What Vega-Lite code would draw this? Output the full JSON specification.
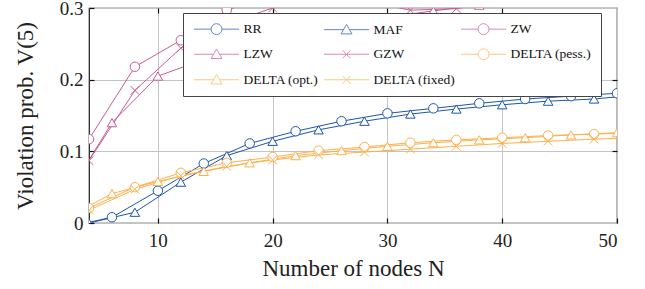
{
  "$schema": "https://vega.github.io/schema/vega-lite/v6.json",
  "width": 528,
  "height": 215,
  "autosize": "none",
  "padding": {"left": 89, "top": 8, "right": 28, "bottom": 66},
  "config": {
    "view": {"stroke": "#1a1a1a", "strokeWidth": 1.2},
    "font": "Liberation Serif, DejaVu Serif, serif"
  },
  "datasets": {
    "d": [
      {"s": "RR", "N": 4, "v": 0.001}, {"s": "RR", "N": 6, "v": 0.008}, {"s": "RR", "N": 10, "v": 0.045}, {"s": "RR", "N": 14, "v": 0.083}, {"s": "RR", "N": 18, "v": 0.111}, {"s": "RR", "N": 22, "v": 0.128}, {"s": "RR", "N": 26, "v": 0.142}, {"s": "RR", "N": 30, "v": 0.153}, {"s": "RR", "N": 34, "v": 0.160}, {"s": "RR", "N": 38, "v": 0.167}, {"s": "RR", "N": 42, "v": 0.173}, {"s": "RR", "N": 46, "v": 0.177}, {"s": "RR", "N": 50, "v": 0.181},
      {"s": "MAF", "N": 4, "v": 0.0}, {"s": "MAF", "N": 8, "v": 0.015}, {"s": "MAF", "N": 12, "v": 0.057}, {"s": "MAF", "N": 16, "v": 0.094}, {"s": "MAF", "N": 20, "v": 0.114}, {"s": "MAF", "N": 24, "v": 0.130}, {"s": "MAF", "N": 28, "v": 0.142}, {"s": "MAF", "N": 32, "v": 0.152}, {"s": "MAF", "N": 36, "v": 0.159}, {"s": "MAF", "N": 40, "v": 0.165}, {"s": "MAF", "N": 44, "v": 0.170}, {"s": "MAF", "N": 48, "v": 0.173}, {"s": "MAF", "N": 50, "v": 0.176},
      {"s": "ZW", "N": 4, "v": 0.117}, {"s": "ZW", "N": 8, "v": 0.218}, {"s": "ZW", "N": 12, "v": 0.255}, {"s": "ZW", "N": 16, "v": 0.297}, {"s": "ZW", "N": 20, "v": 0.318}, {"s": "ZW", "N": 24, "v": 0.33}, {"s": "ZW", "N": 28, "v": 0.34}, {"s": "ZW", "N": 32, "v": 0.348}, {"s": "ZW", "N": 36, "v": 0.355}, {"s": "ZW", "N": 40, "v": 0.36}, {"s": "ZW", "N": 44, "v": 0.365}, {"s": "ZW", "N": 48, "v": 0.37}, {"s": "ZW", "N": 50, "v": 0.372},
      {"s": "LZW", "N": 4, "v": 0.088}, {"s": "LZW", "N": 6, "v": 0.140}, {"s": "LZW", "N": 10, "v": 0.205}, {"s": "LZW", "N": 14, "v": 0.228}, {"s": "LZW", "N": 18, "v": 0.248}, {"s": "LZW", "N": 22, "v": 0.262}, {"s": "LZW", "N": 26, "v": 0.276}, {"s": "LZW", "N": 30, "v": 0.287}, {"s": "LZW", "N": 34, "v": 0.296}, {"s": "LZW", "N": 38, "v": 0.304}, {"s": "LZW", "N": 42, "v": 0.31}, {"s": "LZW", "N": 46, "v": 0.316}, {"s": "LZW", "N": 50, "v": 0.32},
      {"s": "GZW", "N": 4, "v": 0.087}, {"s": "GZW", "N": 8, "v": 0.185}, {"s": "GZW", "N": 12, "v": 0.244}, {"s": "GZW", "N": 16, "v": 0.278}, {"s": "GZW", "N": 20, "v": 0.30}, {"s": "GZW", "N": 24, "v": 0.308}, {"s": "GZW", "N": 28, "v": 0.31}, {"s": "GZW", "N": 32, "v": 0.297}, {"s": "GZW", "N": 36, "v": 0.299}, {"s": "GZW", "N": 40, "v": 0.31}, {"s": "GZW", "N": 44, "v": 0.312}, {"s": "GZW", "N": 48, "v": 0.315}, {"s": "GZW", "N": 50, "v": 0.316},
      {"s": "DELTA (pess.)", "N": 4, "v": 0.021}, {"s": "DELTA (pess.)", "N": 8, "v": 0.05}, {"s": "DELTA (pess.)", "N": 12, "v": 0.07}, {"s": "DELTA (pess.)", "N": 16, "v": 0.084}, {"s": "DELTA (pess.)", "N": 20, "v": 0.092}, {"s": "DELTA (pess.)", "N": 24, "v": 0.101}, {"s": "DELTA (pess.)", "N": 28, "v": 0.106}, {"s": "DELTA (pess.)", "N": 32, "v": 0.112}, {"s": "DELTA (pess.)", "N": 36, "v": 0.116}, {"s": "DELTA (pess.)", "N": 40, "v": 0.119}, {"s": "DELTA (pess.)", "N": 44, "v": 0.122}, {"s": "DELTA (pess.)", "N": 48, "v": 0.124}, {"s": "DELTA (pess.)", "N": 50, "v": 0.125},
      {"s": "DELTA (opt.)", "N": 4, "v": 0.024}, {"s": "DELTA (opt.)", "N": 6, "v": 0.041}, {"s": "DELTA (opt.)", "N": 10, "v": 0.058}, {"s": "DELTA (opt.)", "N": 14, "v": 0.072}, {"s": "DELTA (opt.)", "N": 18, "v": 0.084}, {"s": "DELTA (opt.)", "N": 22, "v": 0.094}, {"s": "DELTA (opt.)", "N": 26, "v": 0.101}, {"s": "DELTA (opt.)", "N": 30, "v": 0.107}, {"s": "DELTA (opt.)", "N": 34, "v": 0.112}, {"s": "DELTA (opt.)", "N": 38, "v": 0.116}, {"s": "DELTA (opt.)", "N": 42, "v": 0.119}, {"s": "DELTA (opt.)", "N": 46, "v": 0.123}, {"s": "DELTA (opt.)", "N": 50, "v": 0.126},
      {"s": "DELTA (fixed)", "N": 4, "v": 0.018}, {"s": "DELTA (fixed)", "N": 8, "v": 0.047}, {"s": "DELTA (fixed)", "N": 12, "v": 0.066}, {"s": "DELTA (fixed)", "N": 16, "v": 0.079}, {"s": "DELTA (fixed)", "N": 20, "v": 0.088}, {"s": "DELTA (fixed)", "N": 24, "v": 0.095}, {"s": "DELTA (fixed)", "N": 28, "v": 0.099}, {"s": "DELTA (fixed)", "N": 32, "v": 0.103}, {"s": "DELTA (fixed)", "N": 36, "v": 0.107}, {"s": "DELTA (fixed)", "N": 40, "v": 0.111}, {"s": "DELTA (fixed)", "N": 44, "v": 0.114}, {"s": "DELTA (fixed)", "N": 48, "v": 0.117}, {"s": "DELTA (fixed)", "N": 50, "v": 0.118}
    ]
  },
  "data": {"name": "d"},
  "resolve": {"axis": {"x": "independent", "y": "independent"}, "scale": {"shape": "independent"}, "legend": {"color": "independent", "shape": "independent"}},
  "layer": [
    {
      "mark": {"type": "line", "clip": true, "strokeWidth": 1},
      "encoding": {
        "x": {"field": "N", "type": "quantitative", "scale": {"domain": [4, 50], "nice": false, "zero": false},
          "axis": {"values": [10, 20, 30, 40, 50], "grid": true, "gridColor": "#c4c4c4", "gridWidth": 1, "domain": false, "tickColor": "#111", "tickSize": -5, "tickWidth": 1.2, "labelFont": "Liberation Serif, DejaVu Serif, serif", "labelFontSize": 19, "labelColor": "#222", "labelPadding": 13, "title": "Number of nodes N", "titleFont": "Liberation Serif, DejaVu Serif, serif", "titleFontSize": 23, "titleFontWeight": "normal", "titleColor": "#222", "titlePadding": 7}},
        "y": {"field": "v", "type": "quantitative", "scale": {"domain": [0, 0.3], "nice": false},
          "axis": {"values": [0, 0.1, 0.2, 0.3], "labelExpr": "datum.value == 0 ? '0' : format(datum.value, '.1f')", "grid": true, "gridColor": "#c4c4c4", "gridWidth": 1, "domain": false, "tickColor": "#111", "tickSize": -5, "tickWidth": 1.2, "labelFont": "Liberation Serif, DejaVu Serif, serif", "labelFontSize": 19, "labelColor": "#222", "labelPadding": 11, "title": "Violation prob. V(5)", "titleFont": "Liberation Serif, DejaVu Serif, serif", "titleFontSize": 23, "titleFontWeight": "normal", "titleColor": "#222", "titlePadding": 22}},
        "color": {"field": "s", "type": "nominal",
          "scale": {"domain": ["RR", "MAF", "ZW", "LZW", "GZW", "DELTA (pess.)", "DELTA (opt.)", "DELTA (fixed)"], "range": ["#1f55b0", "#1f55b0", "#c95b96", "#c95b96", "#c95b96", "#fdb04b", "#fdb04b", "#fdb04b"]},
          "legend": null}
      }
    },
    {
      "transform": [{"filter": "indexof(['RR','LZW','DELTA (opt.)'], datum.s) >= 0 ? datum.N % 4 == 2 : datum.N % 4 == 0"}],
      "mark": {"type": "point", "filled": false, "fill": "white", "fillOpacity": 1, "opacity": 1, "clip": true, "strokeWidth": 1, "size": 90},
      "encoding": {
        "x": {"field": "N", "type": "quantitative", "axis": null},
        "y": {"field": "v", "type": "quantitative", "axis": null},
        "color": {"field": "s", "type": "nominal", "legend": null},
        "shape": {"field": "s", "type": "nominal",
          "scale": {"domain": ["RR", "MAF", "ZW", "LZW", "GZW", "DELTA (pess.)", "DELTA (opt.)", "DELTA (fixed)"], "range": ["circle", "triangle-up", "circle", "triangle-up", "M-0.9,-0.9L0.9,0.9M-0.9,0.9L0.9,-0.9", "circle", "triangle-up", "M-0.9,-0.9L0.9,0.9M-0.9,0.9L0.9,-0.9"]},
          "legend": null}
      }
    },
    {
      "transform": [{"filter": "false"}],
      "mark": {"type": "point", "filled": false, "fill": "white", "strokeWidth": 1, "size": 90},
      "encoding": {
        "color": {"field": "s", "type": "nominal",
          "legend": {"orient": "none", "legendX": 94, "legendY": 5, "columns": 3, "direction": "horizontal", "title": null, "labelFont": "Liberation Serif, DejaVu Serif, serif", "labelFontSize": 13.5, "labelColor": "#111", "padding": 9, "strokeColor": "#444", "fillColor": "white", "symbolSize": 90, "symbolStrokeWidth": 1, "labelOffset": 38, "rowPadding": 9.5, "columnPadding": 3}},
        "shape": {"field": "s", "type": "nominal",
          "scale": {"domain": ["RR", "MAF", "ZW", "LZW", "GZW", "DELTA (pess.)", "DELTA (opt.)", "DELTA (fixed)"], "range": [
            "M-1,0H2.6M4.9,0H8.5M2.6,0A1.15,1.15 0 1,1 4.9,0A1.15,1.15 0 1,1 2.6,0",
            "M-1,0H3.12M4.38,0H8.5M3.75,-1.1L4.9,0.9L2.6,0.9Z",
            "M-1,0H2.6M4.9,0H8.5M2.6,0A1.15,1.15 0 1,1 4.9,0A1.15,1.15 0 1,1 2.6,0",
            "M-1,0H3.12M4.38,0H8.5M3.75,-1.1L4.9,0.9L2.6,0.9Z",
            "M-1,0H8.5M2.9,-0.85L4.6,0.85M2.9,0.85L4.6,-0.85",
            "M-1,0H2.6M4.9,0H8.5M2.6,0A1.15,1.15 0 1,1 4.9,0A1.15,1.15 0 1,1 2.6,0",
            "M-1,0H3.12M4.38,0H8.5M3.75,-1.1L4.9,0.9L2.6,0.9Z",
            "M-1,0H8.5M2.9,-0.85L4.6,0.85M2.9,0.85L4.6,-0.85"]},
          "legend": {"orient": "none", "legendX": 94, "legendY": 5, "columns": 3, "direction": "horizontal", "title": null, "labelFont": "Liberation Serif, DejaVu Serif, serif", "labelFontSize": 13.5, "labelColor": "#111", "padding": 9, "strokeColor": "#444", "fillColor": "white", "symbolSize": 90, "symbolStrokeWidth": 1, "labelOffset": 38, "rowPadding": 9.5, "columnPadding": 3}}
      }
    },
    {
      "mark": {"type": "point", "opacity": 0},
      "encoding": {
        "x": {"field": "N", "type": "quantitative", "axis": {"orient": "top", "values": [10, 20, 30, 40], "labels": false, "grid": false, "domain": false, "tickColor": "#111", "tickSize": -5, "tickWidth": 1.2, "title": null}},
        "y": {"field": "v", "type": "quantitative", "axis": {"orient": "right", "values": [0.1, 0.2], "labels": false, "grid": false, "domain": false, "tickColor": "#111", "tickSize": -5, "tickWidth": 1.2, "title": null}}
      }
    }
  ]
}
